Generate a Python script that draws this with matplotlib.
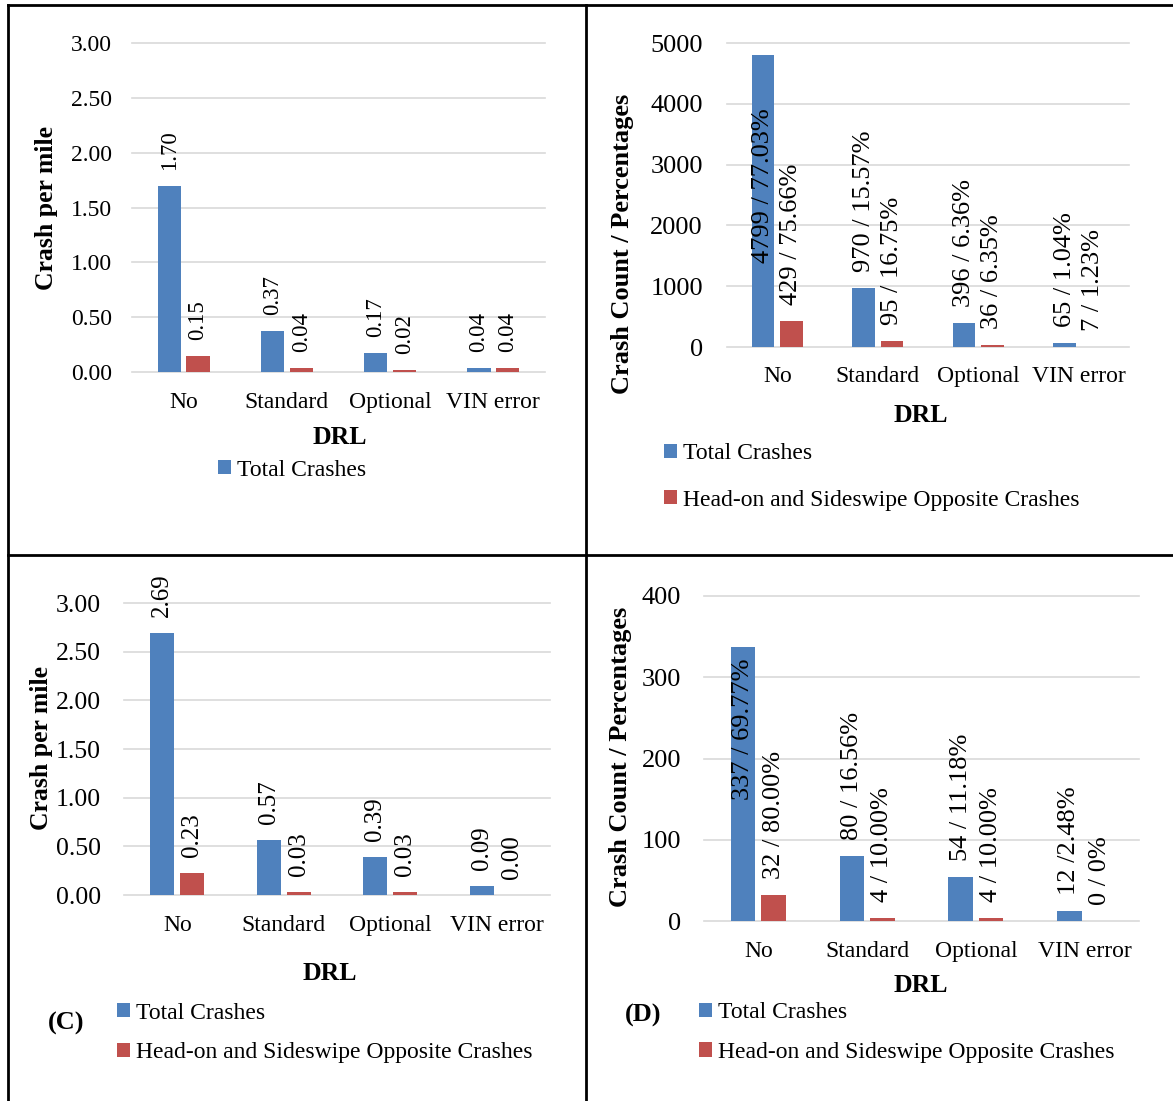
import numpy as np
import matplotlib
matplotlib.use('Agg')
import matplotlib.pyplot as plt
from matplotlib.lines import Line2D
from matplotlib.ticker import MultipleLocator, FormatStrFormatter

plt.rcParams['font.family'] = ['Liberation Serif', 'DejaVu Serif']

# data
categories = ['No', 'Standard', 'Optional', 'VIN error']
series_names = ['Total Crashes', 'Head-on and Sideswipe Opposite Crashes']

rate_a_total = [1.70, 0.37, 0.17, 0.04]
rate_a_headon = [0.15, 0.04, 0.02, 0.04]

count_b_total = [4799, 970, 396, 65]
count_b_headon = [429, 95, 36, 7]
labels_b_total = ['4799 / 77.03%', '970 / 15.57%', '396 / 6.36%', '65 / 1.04%']
labels_b_headon = ['429 / 75.66%', '95 / 16.75%', '36 / 6.35%', '7 / 1.23%']

rate_c_total = [2.69, 0.57, 0.39, 0.09]
rate_c_headon = [0.23, 0.03, 0.03, 0.00]

count_d_total = [337, 80, 54, 12]
count_d_headon = [32, 4, 4, 0]
labels_d_total = ['337 / 69.77%', '80 / 16.56%', '54 / 11.18%', '12 /2.48%']
labels_d_headon = ['32 / 80.00%', '4 / 10.00%', '4 / 10.00%', '0 / 0%']

BLUE = '#4F81BD'
RED = '#C0504D'
GRID = '#D9D9D9'
W, H = 1173, 1101
BAR_W = 0.225
OFF = 0.14

fig = plt.figure(figsize=(W / 100, H / 100), dpi=100)


def fx(x):
    return x / W


def fy(y):
    return 1 - y / H


def draw_panel(box, total, headon, lab_total, lab_head, ymax, ystep, fmt,
               tick_fs, data_fs, tick_pad, cat_pad, inside=None):
    l, t, r, b = box
    ax = fig.add_axes([fx(l), fy(b), (r - l) / W, (b - t) / H])
    x = np.arange(len(categories))
    b1 = ax.bar(x - OFF, total, BAR_W, color=BLUE, zorder=2)
    b2 = ax.bar(x + OFF, headon, BAR_W, color=RED, zorder=2)
    ax.set_xlim(-0.5, 3.5)
    ax.set_ylim(0, ymax)
    ax.yaxis.set_major_locator(MultipleLocator(ystep))
    ax.yaxis.set_major_formatter(FormatStrFormatter(fmt))
    ax.grid(axis='y', color=GRID, lw=1.2)
    ax.set_axisbelow(True)
    for gl in ax.get_ygridlines():
        gl.set_clip_on(False)
    for s in ax.spines.values():
        s.set_visible(False)
    ax.set_xticks(x, categories)
    ax.tick_params(axis='y', length=0, labelsize=tick_fs, pad=tick_pad)
    ax.tick_params(axis='x', length=0, labelsize=17, pad=cat_pad)
    inside = inside or {}
    for k, (bars, labels) in enumerate(((b1, lab_total), (b2, lab_head))):
        for i, (bar, txt) in enumerate(zip(bars, labels)):
            cx = bar.get_x() + bar.get_width() / 2
            top = bar.get_height()
            if (k, i) in inside:
                ax.annotate(txt, (cx, top), xytext=(0, inside[(k, i)]),
                            textcoords='offset points', rotation=90,
                            ha='center', va='top', fontsize=data_fs,
                            annotation_clip=False)
            else:
                ax.annotate(txt, (cx, top), xytext=(0, 11.5),
                            textcoords='offset points', rotation=90,
                            ha='center', va='bottom', fontsize=data_fs,
                            annotation_clip=False)
    return ax, b1, b2


def texts(ylabel, yl_xy, yl_fs, drl_xy):
    fig.text(fx(yl_xy[0]), fy(yl_xy[1]), ylabel, rotation=90, ha='center',
             va='center', fontsize=yl_fs, fontweight='bold')
    fig.text(fx(drl_xy[0]), fy(drl_xy[1]), 'DRL', ha='center', va='center',
             fontsize=18.5, fontweight='bold')


def legend(ax, handles, names, left, ymid, spacing):
    ax.legend(handles, names, loc='center left',
              bbox_to_anchor=(fx(left), fy(ymid)), bbox_transform=fig.transFigure,
              frameon=False, fontsize=17, borderpad=0, borderaxespad=0,
              handlelength=0.55, handleheight=0.55, handletextpad=0.25,
              labelspacing=spacing)


# (A) crash rate, all roads
ax, b1, b2 = draw_panel((132, 43, 545, 372), rate_a_total, rate_a_headon,
                        ['%.2f' % v for v in rate_a_total],
                        ['%.2f' % v for v in rate_a_headon],
                        3.0, 0.5, '%.2f', 17, 16.5, 14.4, 14.2)
texts('Crash per mile', (47, 208), 18.5, (340, 438))
legend(ax, [b1], series_names[:1], 218, 470, 0.8)

# (B) crash counts
ax, b1, b2 = draw_panel((727, 43, 1129, 347), count_b_total, count_b_headon,
                        labels_b_total, labels_b_headon,
                        5000, 1000, '%d', 19, 19, 17.3, 13.5,
                        inside={(0, 0): -38})
texts('Crash Count / Percentages', (623, 244), 19, (921, 415))
legend(ax, [b1, b2], series_names, 664, 477, 1.06)

# (C) crash rate
ax, b1, b2 = draw_panel((124, 603, 550, 895), rate_c_total, rate_c_headon,
                        ['%.2f' % v for v in rate_c_total],
                        ['%.2f' % v for v in rate_c_headon],
                        3.0, 0.5, '%.2f', 18.5, 18, 16.5, 14.2)
texts('Crash per mile', (42, 748), 18.5, (330, 973))
legend(ax, [b1, b2], series_names, 117, 1033, 0.8)
fig.text(fx(66), fy(1023), '(C)', ha='center', va='center', fontsize=19,
         fontweight='bold')

# (D) crash counts
ax, b1, b2 = draw_panel((704, 596, 1139, 921), count_d_total, count_d_headon,
                        labels_d_total, labels_d_headon,
                        400, 100, '%d', 19, 19, 16.5, 14.2,
                        inside={(0, 0): -8})
texts('Crash Count / Percentages', (621, 757), 19, (921, 986))
legend(ax, [b1, b2], series_names, 699, 1032.5, 0.8)
fig.text(fx(643), fy(1015), '(D)', ha='center', va='center', fontsize=19,
         fontweight='bold')

# table borders
for xs, ys in (([8, 8], [5, H]), ([586, 586], [5, H]),
               ([8, W], [5, 5]), ([8, W], [555, 555])):
    fig.add_artist(Line2D([fx(v) for v in xs], [fy(v) for v in ys],
                          transform=fig.transFigure, color='black', lw=2))

fig.savefig('out.png', dpi=100)
